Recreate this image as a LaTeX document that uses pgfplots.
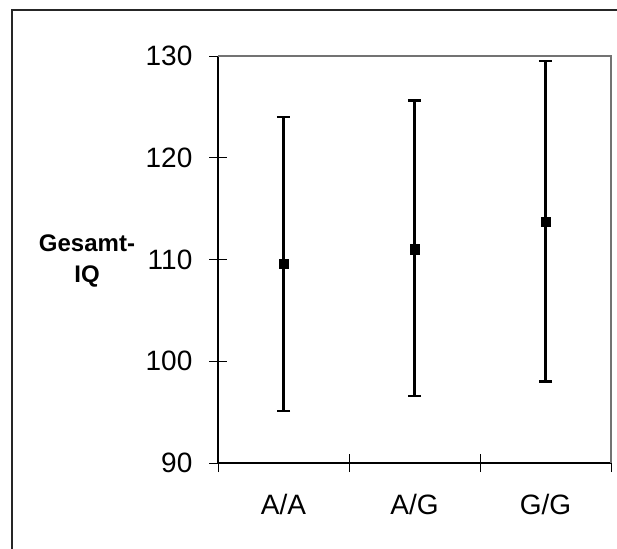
\documentclass[border=0pt]{standalone}
\usepackage{fontspec}
\setmainfont{Liberation Sans}
\usepackage{pgfplots}
\usepackage{pgfplotstable}
\pgfplotsset{compat=1.18}
\pgfplotstableread{
x y ep em
0.5 109.6 14.4 14.5
1.5 111.0 14.6 14.4
2.5 113.7 15.8 15.7
}\datatable
\begin{document}
\begin{tikzpicture}
\path[use as bounding box] (0,0) rectangle (308.5pt,-274pt);
\draw[line width=0.9pt, black!85] (6pt,-320pt) -- (6pt,-5pt) -- (330pt,-5pt);
\begin{axis}[
  at={(109pt,-231.5pt)}, anchor=south west,
  scale only axis, width=196.5pt, height=203.5pt,
  xmin=0, xmax=3, ymin=90, ymax=130,
  ytick={90,100,110,120,130},
  xtick={0,1,2,3}, xticklabels={},
  extra x ticks={0.5,1.5,2.5},
  extra x tick labels={A/A,A/G,G/G},
  extra x tick style={major tick length=0pt, xticklabel style={yshift=-12.3pt}},
  tick align=center, major tick length=9pt,
  tick style={black, line width=0.5pt},
  axis line style={line width=0.7pt},
  axis x line*=bottom, axis y line*=left,
  ticklabel style={font=\fontsize{14}{16}\selectfont},
  /pgf/number format/assume math mode=true,
  yticklabel style={xshift=-4.8pt},
  clip=false,
]
\draw[black!55, line width=0.7pt] (rel axis cs:0,1) -- (rel axis cs:1,1) -- (rel axis cs:1,0);
\addplot[only marks, mark=square*, mark size=2.3pt, black,
  error bars/.cd, y dir=both, y explicit,
  error bar style={line width=1.3pt, black},
  error mark options={rotate=90, mark size=3.3pt, line width=1.3pt}]
  table[x=x, y=y, y error plus=ep, y error minus=em] {\datatable};
\end{axis}
\node[align=center, font=\bfseries\fontsize{12}{15.8}\selectfont] at (43.5pt,-130.5pt) {Gesamt-\\IQ};
\end{tikzpicture}
\end{document}
